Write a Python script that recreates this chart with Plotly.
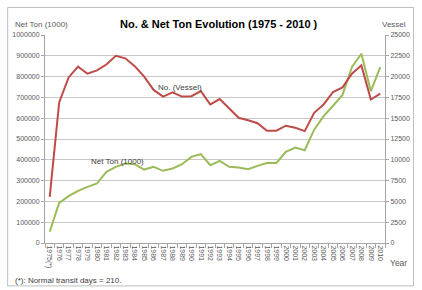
import plotly.graph_objects as go

years = ["1975(*)"] + [str(y) for y in range(1976, 2011)]
net_ton = [54000, 193000, 225000, 251000, 270000, 286000, 342000, 366000, 382000, 379000,
           353000, 366000, 347000, 358000, 379000, 414000, 427000, 374000, 395000, 366000,
           363000, 355000, 371000, 385000, 385000, 438000, 459000, 446000, 545000, 610000,
           660000, 712000, 846000, 910000, 730000, 846000]
vessels = [5550, 16900, 19900, 21200, 20350, 20750, 21450, 22500, 22200, 21250,
           20000, 18400, 17600, 18100, 17600, 17650, 18250, 16650, 17300, 16150,
           15050, 14750, 14400, 13500, 13500, 14100, 13850, 13450, 15650, 16650,
           18150, 18700, 20350, 21350, 17250, 17950]
left_ticks = list(range(0, 1000001, 100000))
right_ticks = list(range(0, 25001, 2500))

W, H = 422, 290
L, R, T, B = 41, 387, 34.6, 243
pw, ph = R - L, B - T

def px(x):
    return (x - L) / pw

def py(y):
    return (B - y) / ph

FONT = "Liberation Sans"
GRAY = "#595959"

fig = go.Figure()
fig.add_trace(go.Scatter(x=years, y=net_ton, mode="lines", name="Net Ton (1000)",
                         line=dict(color="#9bbb59", width=2), yaxis="y"))
fig.add_trace(go.Scatter(x=years, y=vessels, mode="lines", name="No. (Vessel)",
                         line=dict(color="#be4b48", width=2), yaxis="y2"))

def ann(text, x, y, size, color=GRAY, xanchor="center", bold=False):
    return dict(text=("<b>%s</b>" % text) if bold else text, xref="paper", yref="paper",
                x=px(x), y=py(y), xanchor=xanchor, yanchor="middle", showarrow=False,
                font=dict(size=size, color=color, family=FONT))

fig.update_layout(
    width=W, height=H,
    margin=dict(l=L, r=W - R, t=T, b=H - B, pad=0),
    paper_bgcolor="white", plot_bgcolor="white",
    showlegend=False,
    font=dict(family=FONT, color=GRAY, size=7),
    xaxis=dict(type="category", range=[-0.5, len(years) - 0.5], tickangle=90,
               tickmode="array", tickvals=years, ticktext=years,
               tickson="boundaries", ticks="outside", ticklen=4, tickcolor="#a6a6a6",
               showline=True, linecolor="#a6a6a6", linewidth=1, showgrid=False,
               tickfont=dict(size=7, color=GRAY)),
    yaxis=dict(range=[0, 1000000], tickvals=left_ticks, tickformat="d",
               showgrid=True, gridcolor="#c8c8c8", gridwidth=1,
               showline=True, linecolor="#a6a6a6", ticks="outside", ticklen=3,
               tickcolor="#a6a6a6", zeroline=False, tickfont=dict(size=7, color=GRAY)),
    yaxis2=dict(range=[0, 25000], tickvals=right_ticks, tickformat="d", overlaying="y",
                side="right", showgrid=False, showline=True, linecolor="#a6a6a6",
                ticks="outside", ticklen=3, tickcolor="#a6a6a6", zeroline=False,
                tickfont=dict(size=7, color=GRAY)),
    shapes=[dict(type="rect", xref="paper", yref="paper",
                 x0=px(3), x1=px(416), y0=py(286), y1=py(7),
                 line=dict(color="#bfbfbf", width=1), fillcolor="rgba(0,0,0,0)", layer="below")],
    annotations=[
        ann("No. &amp; Net Ton Evolution (1975 - 2010 )", 218, 24, 11, "#000000", bold=True),
        ann("Net Ton (1000)", 8, 24, 8, xanchor="left"),
        ann("Vessel", 396, 24, 8),
        ann("Year", 401, 263, 8.5),
        ann("(*): Normal transit days = 210.", 8, 281, 8, "#404040", xanchor="left"),
        ann("No. (Vessel)", 178, 87, 8, "#404040"),
        ann("Net Ton (1000)", 115, 161, 8, "#404040"),
    ],
)

fig.write_html("out.html")
